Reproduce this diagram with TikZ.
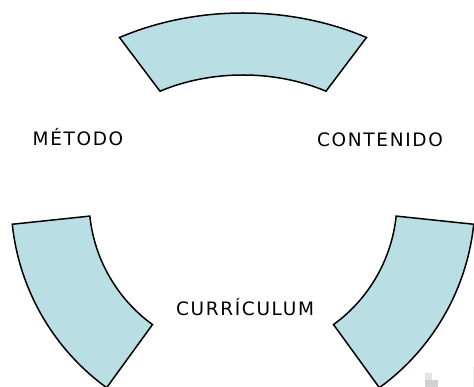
\documentclass[tikz,border=0pt]{standalone}
\usepackage{fontspec}
\setmainfont{DejaVu Sans}[LetterSpace=9]
\usepackage{xcolor}
\definecolor{arcblue}{RGB}{185,223,228}

\begin{document}
\begin{tikzpicture}[
            x = 1pt, y = 1pt,
            every node/.style = {font=\fontsize{18.5}{20}\selectfont, anchor=base, inner sep=0pt},
            blockarc/.style = {draw, fill=arcblue, line width=1.5pt, line join=miter}
        ]
        \useasboundingbox (0,0) rectangle (474,387);
        \coordinate (T) at (243,191);
        \coordinate (C) at (243,187);
        % top block
        \draw[blockarc] ([shift={(60:247pt and 183pt)}]T)
            arc[start angle=60, end angle=120, x radius=247pt, y radius=183pt]
            -- ([shift={(120:166pt and 121pt)}]T)
            arc[start angle=120, end angle=60, x radius=166pt, y radius=121pt] -- cycle;
        % bottom left block
        \draw[blockarc] ([shift={(186:232pt)}]C)
            arc[start angle=186, end angle=234, radius=232pt]
            -- ([shift={(234:154pt)}]C)
            arc[start angle=234, end angle=186, radius=154pt] -- cycle;
        % bottom right block
        \draw[blockarc] ([shift={(354:232pt)}]C)
            arc[start angle=354, end angle=306, radius=232pt]
            -- ([shift={(306:154pt)}]C)
            arc[start angle=306, end angle=354, radius=154pt] -- cycle;
        \node (metodo) at (78,241) {MÉTODO};
        \node (contenido) at (380,240.5) {CONTENIDO};
        \node (curriculum) at (245,71) {CURRÍCULUM};
        % specks in the corner
        \fill[black!10] (425,7) rectangle (432,14);
        \fill[black!18] (425,0) rectangle (438,7);
        \fill[black!7] (472.7,0) rectangle (474,20);
    \end{tikzpicture}
\end{document}
